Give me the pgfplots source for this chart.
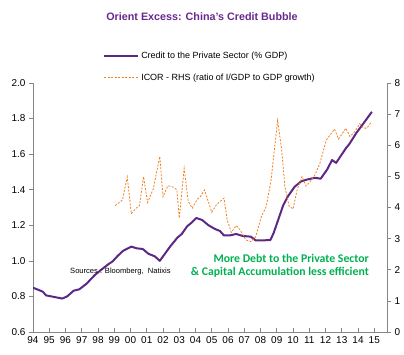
\documentclass[border=0pt]{standalone}
\usepackage{pgfplots}
\pgfplotsset{compat=1.18}
\usepackage{fontspec}
\setmainfont{Liberation Sans}
\newfontfamily\carlito{Carlito}
\definecolor{cpurple}{RGB}{92,40,132}
\definecolor{tpurple}{RGB}{104,40,144}
\definecolor{corange}{RGB}{240,128,32}
\definecolor{cgreen}{RGB}{0,176,80}
\definecolor{axgray}{RGB}{134,134,134}
\begin{document}
\begin{tikzpicture}
\path[use as bounding box] (0,0) rectangle (404bp,355bp);
\pgfplotsset{
  common/.style={
    scale only axis, width=354bp, height=249bp,
    at={(33bp,23bp)}, anchor=south west,
    xmin=1994, xmax=2015.78,
    axis line style={axgray, line width=0.8pt, -},
    tick style={axgray, line width=0.6pt},
    major tick length=4bp,
    ticklabel style={font=\fontsize{10}{12}\selectfont},
    /pgf/number format/assume math mode=true,
  }
}
% left axis with credit series
\begin{axis}[common,
  ymin=0.6, ymax=2.0,
  ytick={0.6,0.8,1.0,1.2,1.4,1.6,1.8,2.0},
  yticklabel style={/pgf/number format/fixed, /pgf/number format/fixed zerofill, /pgf/number format/precision=1},
  axis y line*=left, axis x line=none,
  tick align=outside,
  xtick=\empty,
  legend style={at={(0.198,1.135)}, anchor=north west, draw=none, fill=none,
    font=\fontsize{9}{10}\selectfont, row sep=10bp, inner sep=0pt,
    cells={anchor=west}},
  legend image code/.code={\draw[#1] (0bp,0bp) -- (34bp,0bp);},
]
\addplot[cpurple, line width=2pt, line join=round] coordinates {
(1994.0,0.849) (1994.3,0.838) (1994.6,0.827) (1994.8,0.806) (1995.25,0.798)
(1995.8,0.788) (1996.1,0.800) (1996.5,0.832) (1996.85,0.840) (1997.3,0.872)
(1997.8,0.92) (1998.2,0.95) (1998.65,0.982) (1998.9,0.997) (1999.2,1.027)
(1999.55,1.057) (2000.05,1.08) (2000.4,1.07) (2000.75,1.067) (2001.1,1.04)
(2001.5,1.025) (2001.8,1.0) (2002.45,1.082) (2002.9,1.132) (2003.15,1.151)
(2003.5,1.196) (2003.75,1.214) (2004.05,1.241) (2004.4,1.23) (2004.8,1.2)
(2005.2,1.179) (2005.5,1.168) (2005.75,1.143) (2006.1,1.143) (2006.5,1.151)
(2006.9,1.140) (2007.4,1.136) (2007.7,1.115) (2008.1,1.115) (2008.6,1.117)
(2008.8,1.155) (2009.4,1.314) (2009.7,1.365) (2010.1,1.417) (2010.5,1.447)
(2010.9,1.458) (2011.35,1.467) (2011.7,1.462) (2012.1,1.514) (2012.4,1.567)
(2012.65,1.551) (2013.25,1.633) (2013.45,1.655) (2013.9,1.72) (2014.3,1.769)
(2014.85,1.838)
};
\addlegendentry{Credit to the Private Sector (\% GDP)}
\addlegendimage{corange, line width=0.8pt, dash pattern=on 2pt off 1.5pt}
\addlegendentry{ICOR - RHS (ratio of I/GDP to GDP growth)}
\end{axis}
% right axis with ICOR
\begin{axis}[common,
  ymin=0, ymax=8, ytick={0,1,...,8},
  axis y line*=right, axis x line=none,
  tick align=outside,
  xtick=\empty,
]
\addplot[corange, line width=0.8pt, dash pattern=on 2pt off 1.5pt] coordinates {
(1999.05,4.06) (1999.5,4.24) (1999.8,4.98) (2000.05,3.80) (2000.35,3.98)
(2000.55,4.06) (2000.8,4.99) (2001.05,4.16) (2001.4,4.6) (2001.8,5.64)
(2002.0,4.35) (2002.3,4.7) (2002.6,4.66) (2002.85,4.57) (2003.0,3.66)
(2003.3,5.26) (2003.55,4.2) (2003.8,3.98) (2004.1,4.26) (2004.3,4.35)
(2004.55,4.56) (2005.0,3.85) (2005.3,4.1) (2005.75,4.3) (2005.95,3.6)
(2006.2,3.2) (2006.5,3.42) (2006.75,3.28) (2007.1,2.96) (2007.4,2.9)
(2007.7,3.06) (2008.05,3.71) (2008.35,4.03) (2008.65,4.89) (2008.85,5.85)
(2009.05,6.8) (2009.3,5.85) (2009.5,4.67) (2009.75,4.05) (2010.0,3.95)
(2010.25,4.57) (2010.55,4.99) (2010.8,4.69) (2011.05,4.83) (2011.35,5.05)
(2011.65,5.42) (2012.05,6.17) (2012.55,6.52) (2012.8,6.2) (2013.25,6.55)
(2013.5,6.28) (2013.8,6.44) (2014.1,6.69) (2014.35,6.55) (2014.55,6.55)
(2014.8,6.74)
};
\end{axis}
% x axis
\begin{axis}[common,
  ymin=0, ymax=1, axis y line=none, axis x line*=bottom,
  tick align=inside,
  xtick={1994,...,2015},
  xticklabels={94,95,96,97,98,99,00,01,02,03,04,05,06,07,08,09,10,11,12,13,14,15},
  minor x tick num=3,
  minor tick length=2.5bp,
  major tick length=4bp,
  xticklabel style={yshift=-1bp},
]
\end{axis}
\node[font=\bfseries\fontsize{10.8}{13}\selectfont, text=tpurple] at (202bp,338bp) {Orient Excess: China's Credit Bubble};
\node[anchor=west, font=\fontsize{7.6}{9}\selectfont, inner sep=0pt] at (70bp,83.5bp) {Sources : Bloomberg, \ Natixis};
\node[anchor=east, font=\carlito\bfseries\fontsize{11.8}{13}\selectfont, text=cgreen, inner sep=0pt] at (369bp,97bp) {More Debt to the Private Sector};
\node[anchor=east, font=\carlito\bfseries\fontsize{11.8}{13}\selectfont, text=cgreen, inner sep=0pt] at (369bp,83bp) {\& Capital Accumulation less efficient};
\end{tikzpicture}
\end{document}
